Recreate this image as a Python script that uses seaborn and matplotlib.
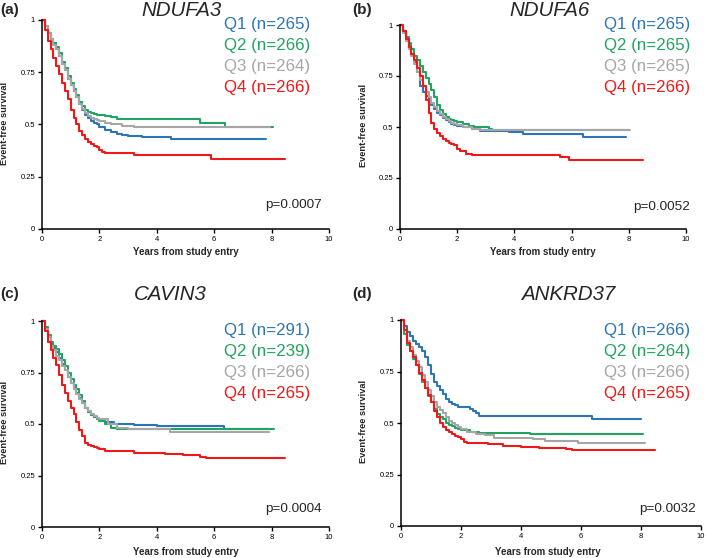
import numpy as np
import pandas as pd
import matplotlib
matplotlib.use("Agg")
import matplotlib.pyplot as plt
import seaborn as sns

GROUPS = ["Q1", "Q2", "Q3", "Q4"]
COLORS = ["#2E75B6", "#22A35F", "#A6A6A6", "#F01818"]

TITLES = ["NDUFA3", "NDUFA6", "CAVIN3", "ANKRD37"]
PANEL_TAGS = ["(a)", "(b)", "(c)", "(d)"]
PVALUES = ["p=0.0007", "p=0.0052", "p=0.0004", "p=0.0032"]
N_A = [265, 266, 264, 266]
N_B = [265, 265, 265, 266]
N_C = [291, 239, 266, 265]
N_D = [266, 264, 266, 265]

EARLY_T = [0, 0.1, 0.2, 0.3, 0.4, 0.5, 0.6, 0.7, 0.8, 0.9, 1.0, 1.1, 1.2, 1.3,
           1.4, 1.5, 1.6, 1.7, 1.8, 1.9, 2.0]

# ---- panel (a) NDUFA3 ----
A_Q1_T = EARLY_T + [2.2, 2.4, 2.6, 2.8, 3.0, 3.5, 4.5, 7.8]
A_Q1_S = [1, .97, .94, .91, .89, .86, .83, .79, .76, .72, .69, .66, .63, .60, .57,
          .545, .53, .515, .505, .50, .49, .475, .465, .455, .45, .445, .44, .43, .43]
A_Q2_T = EARLY_T + [2.2, 2.4, 2.6, 5.5, 6.37, 8.05]
A_Q2_S = [1, .97, .94, .91, .89, .87, .84, .80, .77, .73, .70, .67, .64, .61, .59,
          .57, .56, .555, .55, .545, .545, .54, .535, .524, .508, .49, .49]
A_Q3_T = EARLY_T + [2.2, 2.4, 2.8, 3.2, 4.0, 7.95]
A_Q3_S = [1, .97, .94, .91, .88, .86, .83, .79, .76, .72, .69, .66, .63, .60, .575,
          .555, .54, .53, .525, .52, .515, .505, .50, .495, .49, .487, .487]
A_Q4_T = EARLY_T + [2.1, 2.2, 3.2, 5.9, 8.47]
A_Q4_S = [1, .95, .90, .86, .82, .78, .74, .70, .66, .62, .57, .53, .50, .47, .45,
          .43, .415, .405, .395, .39, .38, .37, .363, .355, .337, .337]

# ---- panel (b) NDUFA6 ----
B_Q1_T = EARLY_T + [2.2, 2.5, 2.8, 3.8, 4.3, 6.4, 7.9]
B_Q1_S = [1, .97, .93, .89, .86, .82, .77, .70, .67, .65, .63, .61, .59, .57, .56,
          .545, .535, .525, .515, .51, .505, .50, .49, .48, .475, .465, .45, .45]
B_Q2_T = EARLY_T + [2.2, 2.4, 2.6, 3.1, 3.2, 8.0]
B_Q2_S = [1, .97, .94, .91, .88, .85, .83, .80, .77, .74, .71, .68, .645, .61, .585,
          .565, .55, .54, .535, .53, .525, .515, .505, .50, .49, .485, .485]
B_Q3_T = EARLY_T + [2.2, 2.5, 2.8, 8.05]
B_Q3_S = [1, .96, .92, .88, .85, .81, .77, .73, .70, .67, .645, .62, .60, .58, .565,
          .55, .54, .53, .52, .515, .51, .50, .49, .485, .485]
B_Q4_T = EARLY_T + [2.1, 2.3, 2.5, 5.6, 5.9, 8.5]
B_Q4_S = [1, .97, .93, .89, .86, .83, .79, .75, .70, .63, .57, .52, .49, .47, .455,
          .44, .43, .42, .415, .41, .39, .38, .37, .365, .355, .34, .34]

# ---- panel (c) CAVIN3 ----
C_Q1_T = EARLY_T + [2.2, 2.5, 3.2, 4.0, 6.35, 7.9]
C_Q1_S = [1, .96, .92, .89, .87, .85, .82, .79, .76, .73, .70, .67, .65, .625, .60,
          .58, .56, .545, .535, .525, .52, .51, .50, .495, .49, .475, .475]
C_Q2_T = EARLY_T + [2.2, 2.4, 2.6, 8.08]
C_Q2_S = [1, .97, .93, .90, .88, .865, .84, .81, .78, .75, .72, .69, .67, .64, .61,
          .58, .56, .545, .535, .525, .515, .50, .48, .478, .478]
C_Q3_T = EARLY_T + [2.3, 2.6, 3.0, 4.45, 7.9]
C_Q3_S = [1, .96, .92, .88, .86, .83, .81, .78, .76, .73, .70, .67, .645, .62, .60,
          .58, .565, .55, .54, .53, .525, .50, .48, .475, .462, .462]
C_Q4_T = EARLY_T + [2.2, 3.2, 4.3, 4.9, 5.5, 5.7, 8.47]
C_Q4_S = [1, .95, .90, .86, .82, .785, .74, .69, .65, .61, .58, .55, .51, .47, .44,
          .41, .40, .395, .39, .385, .38, .37, .36, .353, .348, .34, .333, .333]

# ---- panel (d) ANKRD37 ----
D_Q1_T = EARLY_T + [2.3, 2.4, 2.5, 2.6, 6.35, 8.0]
D_Q1_S = [1, .97, .94, .92, .90, .885, .87, .85, .82, .78, .74, .70, .68, .66, .64,
          .615, .60, .59, .585, .58, .576, .57, .56, .55, .535, .52, .52]
D_Q2_T = EARLY_T + [2.3, 2.6, 4.3, 8.07]
D_Q2_S = [1, .93, .88, .85, .81, .78, .74, .70, .67, .63, .60, .57, .545, .53, .52,
          .50, .49, .485, .475, .47, .465, .458, .452, .447, .447]
D_Q3_T = EARLY_T + [2.2, 2.5, 2.8, 3.1, 4.4, 4.8, 5.9, 8.13]
D_Q3_S = [1, .95, .90, .87, .83, .80, .77, .735, .70, .66, .63, .60, .58, .565, .55,
          .53, .51, .50, .49, .48, .47, .458, .445, .44, .426, .42, .415, .405, .405]
D_Q4_T = EARLY_T + [2.1, 2.2, 2.9, 3.4, 4.0, 4.6, 5.5, 5.7, 8.46]
D_Q4_S = [1, .95, .89, .85, .82, .78, .745, .71, .67, .635, .60, .56, .53, .50, .48,
          .465, .455, .445, .435, .43, .42, .41, .405, .40, .39, .385, .38, .375, .37, .37]

PANELS = [
    ([A_Q1_T, A_Q2_T, A_Q3_T, A_Q4_T], [A_Q1_S, A_Q2_S, A_Q3_S, A_Q4_S], N_A),
    ([B_Q1_T, B_Q2_T, B_Q3_T, B_Q4_T], [B_Q1_S, B_Q2_S, B_Q3_S, B_Q4_S], N_B),
    ([C_Q1_T, C_Q2_T, C_Q3_T, C_Q4_T], [C_Q1_S, C_Q2_S, C_Q3_S, C_Q4_S], N_C),
    ([D_Q1_T, D_Q2_T, D_Q3_T, D_Q4_T], [D_Q1_S, D_Q2_S, D_Q3_S, D_Q4_S], N_D),
]

# ---- layout (pixels in a 706x558 figure) ----
W, H = 706, 558
AX_BOX = [(42, 20, 329, 229), (400, 25, 686, 229), (42, 321, 329, 527), (401, 320, 701, 526)]
TITLE_XY = [(182, 10.5), (550, 10.5), (170, 295), (568, 295)]
TAG_XY = [(0, 10), (352, 10), (0, 294), (352, 294)]
LEG_RIGHT = [310, 690, 310, 690]
LEG_TOP = [25, 25, 331, 331]
LEG_STEP = 20.7
P_XY = [(322, 205), (690, 207), (322, 509), (696, 509)]
XLAB_XY = [(186, 252), (543, 252), (186, 552), (548, 552)]
YLAB_XY = [(5, 123), (363, 125), (5, 422), (363, 421)]

sns.set_style("ticks")
plt.rcParams["font.family"] = ["Liberation Sans", "DejaVu Sans"]

fig = plt.figure(figsize=(W / 100, H / 100), dpi=100)


def fx(x):
    return x / W


def fy(y):
    return 1 - y / H


palette = dict(zip(GROUPS, COLORS))

for i, (times, survs, ns) in enumerate(PANELS):
    x0, y0, x1, y1 = AX_BOX[i]
    ax = fig.add_axes([fx(x0), fy(y1), (x1 - x0) / W, (y1 - y0) / H])
    frames = []
    for g, t, s in zip(GROUPS, times, survs):
        frames.append(pd.DataFrame({"time": t, "survival": s, "group": g}))
    df = pd.concat(frames, ignore_index=True)
    sns.lineplot(data=df, x="time", y="survival", hue="group", palette=palette,
                 hue_order=GROUPS, estimator=None, sort=False, drawstyle="steps-post",
                 legend=False, linewidth=1.5, ax=ax, clip_on=False)
    ax.set_xlim(0, 10)
    ax.set_ylim(0, 1)
    ax.set_xticks([0, 2, 4, 6, 8, 10])
    ax.set_xticklabels(["0", "2", "4", "6", "8", "10"])
    ax.set_yticks([0, 0.25, 0.5, 0.75, 1])
    ax.set_yticklabels(["0", "0.25", "0.5", "0.75", "1"])
    ax.tick_params(axis="both", direction="out", length=3, width=1, labelsize=5.5,
                   pad=2, colors="#000000")
    ax.set_xlabel("")
    ax.set_ylabel("")
    for side in ["top", "right"]:
        ax.spines[side].set_visible(False)
    for side in ["left", "bottom"]:
        ax.spines[side].set_color("#000000")
        ax.spines[side].set_linewidth(1.1)
    ax.set_facecolor("none")

    # legend-like coloured text
    for k, (g, c, n) in enumerate(zip(GROUPS, COLORS, ns)):
        fig.text(fx(LEG_RIGHT[i]), fy(LEG_TOP[i] + k * LEG_STEP), f"{g} (n={n})",
                 color=c, fontsize=12.2, ha="right", va="center")

    fig.text(fx(TITLE_XY[i][0]), fy(TITLE_XY[i][1]), TITLES[i], fontsize=14.8,
             style="italic", ha="center", va="center")
    fig.text(fx(TAG_XY[i][0]), fy(TAG_XY[i][1]), PANEL_TAGS[i], fontsize=11,
             fontweight="bold", ha="left", va="center")
    fig.text(fx(P_XY[i][0]), fy(P_XY[i][1]), PVALUES[i], fontsize=9.7,
             ha="right", va="center")
    fig.text(fx(XLAB_XY[i][0]), fy(XLAB_XY[i][1]), "Years from study entry",
             fontsize=7, fontweight="bold", ha="center", va="center")
    fig.text(fx(YLAB_XY[i][0]), fy(YLAB_XY[i][1]), "Event-free survival",
             fontsize=6.7, fontweight="bold", ha="center", va="center", rotation=90)

fig.savefig("out.png", dpi=100, facecolor="white")
